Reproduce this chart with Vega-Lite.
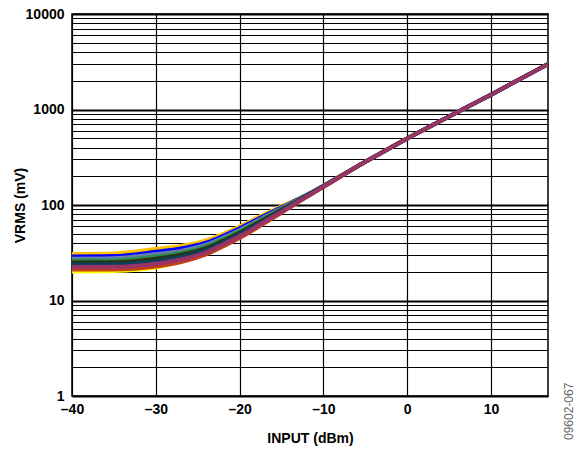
{
  "$schema": "https://vega.github.io/schema/vega-lite/v6.json",
  "width": 476,
  "height": 382,
  "autosize": {"type": "none"},
  "padding": {"left": 72, "top": 14, "right": 28, "bottom": 55},
  "background": "white",
  "config": {"view": {"stroke": "#000", "strokeWidth": 1.5}, "font": "Liberation Sans"},
  "title": {"text": "09602-067", "orient": "right", "anchor": "end", "frame": "group", "angle": -90, "align": "left", "dx": -44, "fontSize": 12, "fontWeight": "normal", "color": "#666", "font": "Liberation Sans", "offset": 4},
  "data": {"values": [
    {"s": "s1", "x": -40, "v": 20.1}, {"s": "s1", "x": -35, "v": 20.4}, {"s": "s1", "x": -30, "v": 22.2}, {"s": "s1", "x": -27, "v": 25.6}, {"s": "s1", "x": -24, "v": 31.1}, {"s": "s1", "x": -22, "v": 37.7}, {"s": "s1", "x": -20, "v": 46.1}, {"s": "s1", "x": -17, "v": 65.9}, {"s": "s1", "x": -15, "v": 84.0}, {"s": "s1", "x": -12, "v": 121.6}, {"s": "s1", "x": -10, "v": 154.7}, {"s": "s1", "x": -5, "v": 283}, {"s": "s1", "x": 0, "v": 498}, {"s": "s1", "x": 5, "v": 845}, {"s": "s1", "x": 10, "v": 1430}, {"s": "s1", "x": 16.8, "v": 2990},
    {"s": "s2", "x": -40, "v": 21.1}, {"s": "s2", "x": -35, "v": 21.1}, {"s": "s2", "x": -30, "v": 22.7}, {"s": "s2", "x": -27, "v": 25.3}, {"s": "s2", "x": -24, "v": 30.3}, {"s": "s2", "x": -22, "v": 36.8}, {"s": "s2", "x": -20, "v": 45.1}, {"s": "s2", "x": -17, "v": 64.8}, {"s": "s2", "x": -15, "v": 83.0}, {"s": "s2", "x": -12, "v": 121.0}, {"s": "s2", "x": -10, "v": 154.3}, {"s": "s2", "x": -5, "v": 283}, {"s": "s2", "x": 0, "v": 498}, {"s": "s2", "x": 5, "v": 845}, {"s": "s2", "x": 10, "v": 1430}, {"s": "s2", "x": 16.8, "v": 2990},
    {"s": "s3", "x": -40, "v": 30.7}, {"s": "s3", "x": -35, "v": 31.1}, {"s": "s3", "x": -30, "v": 34.6}, {"s": "s3", "x": -27, "v": 37.2}, {"s": "s3", "x": -24, "v": 42.5}, {"s": "s3", "x": -22, "v": 49.7}, {"s": "s3", "x": -20, "v": 59.6}, {"s": "s3", "x": -17, "v": 80.5}, {"s": "s3", "x": -15, "v": 97.0}, {"s": "s3", "x": -12, "v": 128.0}, {"s": "s3", "x": -10, "v": 160.0}, {"s": "s3", "x": -5, "v": 283}, {"s": "s3", "x": 0, "v": 498}, {"s": "s3", "x": 5, "v": 845}, {"s": "s3", "x": 10, "v": 1430}, {"s": "s3", "x": 16.8, "v": 2990},
    {"s": "s4", "x": -40, "v": 28.9}, {"s": "s4", "x": -35, "v": 29.2}, {"s": "s4", "x": -30, "v": 32.4}, {"s": "s4", "x": -27, "v": 35.0}, {"s": "s4", "x": -24, "v": 40.3}, {"s": "s4", "x": -22, "v": 47.4}, {"s": "s4", "x": -20, "v": 57.0}, {"s": "s4", "x": -17, "v": 77.7}, {"s": "s4", "x": -15, "v": 94.6}, {"s": "s4", "x": -12, "v": 126.9}, {"s": "s4", "x": -10, "v": 159.1}, {"s": "s4", "x": -5, "v": 283}, {"s": "s4", "x": 0, "v": 498}, {"s": "s4", "x": 5, "v": 845}, {"s": "s4", "x": 10, "v": 1430}, {"s": "s4", "x": 16.8, "v": 2990},
    {"s": "s5", "x": -40, "v": 27.4}, {"s": "s5", "x": -35, "v": 27.7}, {"s": "s5", "x": -30, "v": 30.5}, {"s": "s5", "x": -27, "v": 33.1}, {"s": "s5", "x": -24, "v": 38.4}, {"s": "s5", "x": -22, "v": 45.4}, {"s": "s5", "x": -20, "v": 54.8}, {"s": "s5", "x": -17, "v": 75.4}, {"s": "s5", "x": -15, "v": 92.6}, {"s": "s5", "x": -12, "v": 125.9}, {"s": "s5", "x": -10, "v": 158.3}, {"s": "s5", "x": -5, "v": 283}, {"s": "s5", "x": 0, "v": 498}, {"s": "s5", "x": 5, "v": 845}, {"s": "s5", "x": 10, "v": 1430}, {"s": "s5", "x": 16.8, "v": 2990},
    {"s": "s6", "x": -40, "v": 26.2}, {"s": "s6", "x": -35, "v": 26.4}, {"s": "s6", "x": -30, "v": 29.0}, {"s": "s6", "x": -27, "v": 31.6}, {"s": "s6", "x": -24, "v": 36.9}, {"s": "s6", "x": -22, "v": 43.8}, {"s": "s6", "x": -20, "v": 53.0}, {"s": "s6", "x": -17, "v": 73.5}, {"s": "s6", "x": -15, "v": 90.9}, {"s": "s6", "x": -12, "v": 125.0}, {"s": "s6", "x": -10, "v": 157.6}, {"s": "s6", "x": -5, "v": 283}, {"s": "s6", "x": 0, "v": 498}, {"s": "s6", "x": 5, "v": 845}, {"s": "s6", "x": 10, "v": 1430}, {"s": "s6", "x": 16.8, "v": 2990},
    {"s": "s7", "x": -40, "v": 25.0}, {"s": "s7", "x": -35, "v": 25.1}, {"s": "s7", "x": -30, "v": 27.4}, {"s": "s7", "x": -27, "v": 30.1}, {"s": "s7", "x": -24, "v": 35.3}, {"s": "s7", "x": -22, "v": 42.1}, {"s": "s7", "x": -20, "v": 51.1}, {"s": "s7", "x": -17, "v": 71.5}, {"s": "s7", "x": -15, "v": 89.0}, {"s": "s7", "x": -12, "v": 124.1}, {"s": "s7", "x": -10, "v": 156.9}, {"s": "s7", "x": -5, "v": 283}, {"s": "s7", "x": 0, "v": 498}, {"s": "s7", "x": 5, "v": 845}, {"s": "s7", "x": 10, "v": 1430}, {"s": "s7", "x": 16.8, "v": 2990},
    {"s": "s8", "x": -40, "v": 23.8}, {"s": "s8", "x": -35, "v": 23.9}, {"s": "s8", "x": -30, "v": 26.0}, {"s": "s8", "x": -27, "v": 28.6}, {"s": "s8", "x": -24, "v": 33.8}, {"s": "s8", "x": -22, "v": 40.5}, {"s": "s8", "x": -20, "v": 49.3}, {"s": "s8", "x": -17, "v": 69.5}, {"s": "s8", "x": -15, "v": 87.3}, {"s": "s8", "x": -12, "v": 123.2}, {"s": "s8", "x": -10, "v": 156.1}, {"s": "s8", "x": -5, "v": 283}, {"s": "s8", "x": 0, "v": 498}, {"s": "s8", "x": 5, "v": 845}, {"s": "s8", "x": 10, "v": 1430}, {"s": "s8", "x": 16.8, "v": 2990},
    {"s": "s9", "x": -40, "v": 22.4}, {"s": "s9", "x": -35, "v": 22.5}, {"s": "s9", "x": -30, "v": 24.3}, {"s": "s9", "x": -27, "v": 26.9}, {"s": "s9", "x": -24, "v": 32.0}, {"s": "s9", "x": -22, "v": 38.6}, {"s": "s9", "x": -20, "v": 47.2}, {"s": "s9", "x": -17, "v": 67.1}, {"s": "s9", "x": -15, "v": 85.1}, {"s": "s9", "x": -12, "v": 122.1}, {"s": "s9", "x": -10, "v": 155.2}, {"s": "s9", "x": -5, "v": 283}, {"s": "s9", "x": 0, "v": 498}, {"s": "s9", "x": 5, "v": 845}, {"s": "s9", "x": 10, "v": 1430}, {"s": "s9", "x": 16.8, "v": 2990}
  ]},
  "mark": {"type": "line", "strokeWidth": 4, "interpolate": "monotone", "clip": true},
  "encoding": {
    "x": {
      "field": "x", "type": "quantitative",
      "scale": {"domain": [-40, 16.8], "nice": false, "zero": false},
      "axis": {
        "values": [-40, -30, -20, -10, 0, 10],
        "title": "INPUT (dBm)",
        "labelExpr": "datum.value < 0 ? '–' + abs(datum.value) : '' + datum.value",
        "grid": true, "gridColor": "#000", "gridWidth": 1.2, "gridOpacity": 1,
        "ticks": false, "domain": false,
        "labelFlush": false, "labelOverlap": false,
        "labelFont": "Liberation Sans", "labelFontWeight": "bold", "labelFontSize": 14, "labelColor": "#000", "labelPadding": 6,
        "titleFont": "Liberation Sans", "titleFontSize": 14, "titleFontWeight": "bold", "titleColor": "#000", "titlePadding": 15
      }
    },
    "y": {
      "field": "v", "type": "quantitative",
      "scale": {"type": "log", "domain": [1, 10000], "nice": false},
      "axis": {
        "values": [1, 2, 3, 4, 5, 6, 7, 8, 9, 10, 20, 30, 40, 50, 60, 70, 80, 90, 100, 200, 300, 400, 500, 600, 700, 800, 900, 1000, 2000, 3000, 4000, 5000, 6000, 7000, 8000, 9000, 10000],
        "title": "VRMS (mV)",
        "labelExpr": "indexof([1, 10, 100, 1000, 10000], datum.value) >= 0 ? format(datum.value, 'd') : ''",
        "grid": true, "gridColor": "#000", "gridOpacity": 1,
        "gridWidth": {"condition": {"test": "indexof([1, 10, 100, 1000, 10000], datum.value) >= 0", "value": 2}, "value": 1},
        "ticks": false, "domain": false,
        "labelOverlap": false, "labelFlush": false,
        "labelFont": "Liberation Sans", "labelFontWeight": "bold", "labelFontSize": 14, "labelColor": "#000", "labelPadding": 8,
        "titleFont": "Liberation Sans", "titleFontSize": 14, "titleFontWeight": "bold", "titleColor": "#000", "titlePadding": -2
      }
    },
    "color": {
      "field": "s", "type": "nominal", "legend": null,
      "scale": {
        "domain": ["s1", "s2", "s3", "s4", "s5", "s6", "s7", "s8", "s9"],
        "range": ["#FFFF00", "#C0401A", "#FFC000", "#0000FF", "#7080B0", "#2E8B57", "#2A3510", "#0B3F5C", "#993366"]
      }
    }
  }
}
